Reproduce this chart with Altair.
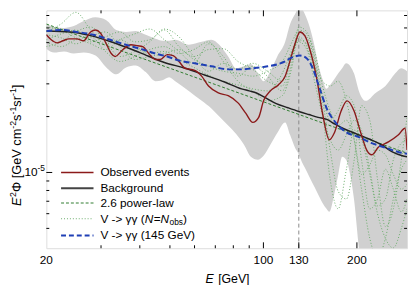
import altair as alt
import pandas as pd

# ---------------- data (flux in units of 1e-5 GeV cm^-2 s^-1 sr^-1) ----------------
obs_E = [20, 20.74, 21.66, 22.64, 23.65, 25.06, 26.37, 27.76, 28.79, 29.86, 31.19, 32.36, 33.30, 35.30, 37.43,
         39.39, 40.85, 43.30, 44.91, 46.57, 49.0, 51.19, 53.48, 55.87, 60.1, 63.25, 66.57, 71.6, 77.02, 82.84,
         87.82, 92.42, 96.55, 100.1, 105.3, 111.6, 117.5, 123.7, 126.4, 131.1, 136.0, 140.9, 148.4, 155.0, 163.0,
         169.1, 178.0, 186.0, 195.7, 205.9, 215.1, 223.1, 234.8, 252.6, 271.6, 285.8, 290]
obs_F = [5.51, 5.18, 4.99, 5.12, 5.24, 5.24, 5.12, 5.71, 5.85, 5.64, 4.93, 4.37, 4.21, 4.59, 4.87,
         4.81, 4.76, 4.26, 4.06, 4.06, 4.31, 4.26, 3.96, 3.64, 3.55, 3.30, 2.92, 2.68, 2.59, 2.37,
         2.08, 1.86, 1.98, 2.43, 2.75, 2.96, 3.30, 4.37, 4.93, 5.71, 5.44, 4.64, 3.22, 2.08, 1.50,
         1.63, 2.15, 2.43, 2.15, 1.63, 1.32, 1.245, 1.37, 1.46, 1.59, 1.73, 1.32]

bkg_E = [20, 24, 28, 33, 40, 48, 56, 65, 75, 85, 90, 95, 100, 110, 120, 130, 140, 150, 160, 170, 180, 200,
         220, 240, 260, 280, 290]
bkg_F = [5.78, 5.71, 5.44, 4.99, 4.42, 3.91, 3.64, 3.34, 3.07, 2.82, 2.75, 2.68, 2.56, 2.35, 2.23, 2.13, 2.05,
         1.98, 1.93, 1.82, 1.73, 1.61, 1.51, 1.41, 1.29, 1.23, 1.215]

line145_E = [20, 22.31, 25.06, 28.37, 32.12, 36.08, 40.85, 44.91, 49.0, 53.48, 60.1, 68.03, 77.02, 84.67, 93.1,
             103.1, 110.8, 117.5, 121.9, 131.1, 138.0, 144.1, 151.6, 159.6, 171.6, 184.6, 202.9, 223.1, 247.1,
             271.6, 290]
line145_F = [5.78, 5.85, 5.71, 5.51, 5.18, 4.87, 4.59, 4.37, 4.21, 4.01, 3.87, 3.73, 3.59, 3.59, 3.64,
             3.73, 3.82, 3.96, 4.11, 4.26, 4.11, 3.64, 2.85, 2.23, 1.84, 1.65, 1.55, 1.44, 1.36,
             1.29, 1.26]

pl_E = [20, 290]
pl_F = [6.30, 1.27]

band_E = [20.0, 21.2, 22.8, 24.5, 26.4, 28.8, 31.2, 33.6, 36.1, 38.8, 41.8, 44.9, 47.3, 49.7, 52.0, 57.5,
          63.3, 68.0, 72.1, 77.0, 81.7, 86.6, 91.1, 95.9, 100.1, 105.3, 110.8, 117.5, 121.9, 126.4, 129.2,
          133.0, 136.0, 140.9, 146.2, 149.4, 155.0, 159.6, 163.0, 169.1, 174.2, 179.3, 184.6, 191.5, 195.7,
          202.9, 213.5, 229.7, 247.1, 265.8, 277.6, 290.0]
band_hi = [6.30, 6.07, 6.00, 6.14, 6.53, 6.85, 6.61, 5.85, 5.71, 5.78, 5.51, 5.24, 5.12, 5.12, 5.18, 4.87,
           5.05, 5.18, 4.87, 4.21, 3.64, 3.73, 3.82, 3.42, 3.10, 3.51, 4.21, 5.05, 6.30, 7.11, 7.56,
           7.56, 7.11, 6.07, 4.76, 3.96, 3.18, 2.82, 2.92, 3.18, 3.42, 3.64, 3.87, 3.68, 3.42,
           2.75, 2.43, 2.68, 2.92, 3.42, 3.64, 3.51]
band_lo = [4.64, 4.42, 4.48, 4.37, 4.42, 4.26, 3.68, 3.38, 3.68, 3.77, 3.47, 3.10, 3.14, 3.26, 3.10, 2.75,
           2.43, 2.21, 2.00, 1.79, 1.61, 1.41, 1.215, 1.17, 1.23, 1.41, 1.63, 1.86, 1.59, 1.36, 1.276,
           1.14, 1.06, 0.941, 0.833, 0.774, 0.685, 0.637, 0.614, 0.765, 0.976, 1.215, 1.17, 0.918, 0.720,
           0.392, 0.213, 0.213, 0.213, 0.213, 0.213, 0.213]

sim_E = [20, 22.3, 24.9, 27.8, 31.0, 34.5, 38.5, 43.0, 48.0, 53.5, 59.7, 66.6, 74.3, 82.8, 92.4, 103, 115,
         123.7, 130, 138, 146, 155, 164, 174, 185, 196, 207, 220, 233, 247, 262, 278, 290]
sim1_F = [5.71, 6.30, 7.28, 5.85, 4.93, 5.18, 4.70, 4.37, 4.48, 4.06, 3.68, 3.34, 3.10, 2.96, 2.82, 2.75, 3.42,
          4.59, 5.37, 4.76, 3.51, 2.43, 1.32, 0.793, 0.720, 1.17, 2.29, 1.91, 0.918, 0.512, 0.637, 1.17, 1.98]
sim2_F = [5.18, 5.57, 5.85, 5.05, 5.37, 5.71, 5.05, 5.18, 5.85, 4.76, 4.21, 4.59, 4.64, 3.96, 3.59, 3.10, 2.92,
          4.21, 5.18, 4.93, 3.73, 3.10, 2.92, 3.10, 2.43, 1.50, 0.813, 0.442, 0.347, 0.442, 0.720, 1.04, 1.17]
sim3_F = [6.07, 5.85, 5.31, 4.93, 4.59, 5.18, 5.57, 5.92, 5.18, 4.48, 3.87, 4.93, 4.21, 3.30, 3.73, 3.30, 2.75,
          3.96, 6.07, 5.71, 4.21, 2.59, 1.91, 2.15, 2.59, 2.29, 1.17, 0.637, 0.720, 1.04, 0.813, 0.614, 0.720]
sim4_F = [4.76, 5.05, 5.71, 6.07, 5.05, 4.21, 4.48, 5.05, 5.92, 5.37, 4.21, 3.51, 3.87, 3.59, 3.87, 3.51, 3.10,
          4.48, 5.05, 4.59, 3.10, 2.03, 1.50, 1.32, 1.59, 1.91, 1.69, 1.04, 0.661, 0.720, 1.17, 1.44, 1.50]
sim5_F = [5.05, 4.76, 5.18, 5.37, 4.48, 3.96, 4.21, 4.59, 4.76, 4.37, 4.59, 5.05, 3.96, 3.10, 2.75, 2.43, 2.59,
          3.73, 5.71, 5.37, 3.96, 2.15, 0.918, 0.637, 1.04, 1.69, 1.50, 0.976, 0.600, 0.442, 0.392, 0.500, 0.637]
sim6_F = [5.51, 5.31, 4.93, 5.37, 5.71, 4.76, 4.06, 4.21, 4.37, 4.59, 4.06, 3.73, 3.51, 3.42, 3.30, 3.51, 3.96,
          5.05, 5.85, 5.57, 4.48, 2.92, 2.15, 1.79, 1.91, 1.50, 0.976, 1.10, 1.32, 1.245, 0.976, 0.813, 0.864]

x_tick_labels = [20, 100, 130, 200]
x_major_ticks = [100, 130, 200]
x_minor_ticks = [30, 40, 50, 60, 70, 80, 90]
y_major_ticks = [1.0]
y_minor_ticks = [0.5, 0.6, 0.7, 0.8, 0.9, 2, 3, 4, 5, 6, 7]
line_energy = [130]

# ---------------- layout / style ----------------
W, H = 367, 242
FONT = "Liberation Sans"
xs = alt.Scale(type="log", domain=[20, 290], nice=False)
ys = alt.Scale(type="log", domain=[0.391, 7.46], nice=False)
one = pd.DataFrame({"_": [0]})

ADV = {' ': .278, '[': .278, ']': .278, '(': .333, ')': .333, '-': .333, '>': .584, '=': .584,
       'E': .667, 'G': .778, 'V': .667, 'N': .722, 'a': .556, 'b': .556, 'c': .5, 'e': .556,
       'm': .833, 'o': .556, 'r': .333, 's': .5, 'v': .5, 'Φ': .78, 'γ': .5}


def tw(s, size):
    return sum(ADV.get(c, .556) for c in s) * size


def rich(pieces, X, Y, angle=0):
    out, adv = [], 0.0
    for txt, size, style, rise, gap in pieces:
        out.append(alt.Chart(one).mark_text(
            text=txt, align="left", baseline="middle", angle=angle, fontSize=size,
            fontStyle=style, font=FONT, dx=adv, dy=rise, color="black"
        ).encode(x=alt.value(X), y=alt.value(Y)))
        adv += tw(txt, size) + gap
    return out


def xenc():
    return alt.X("E:Q", scale=xs, axis=None)


def line(E, F, color, width, dash=None):
    kw = dict(color=color, strokeWidth=width, clip=True, interpolate="monotone")
    if dash:
        kw["strokeDash"] = dash
    return alt.Chart(pd.DataFrame({"E": E, "F": F})).mark_line(**kw).encode(
        x=xenc(), y=alt.Y("F:Q", scale=ys, axis=None))


RED, BLK, PLG, SIMG, BLUE = "#8b1a1a", "#222222", "#2e7b2e", "#6aac6a", "#1f3fb5"

band = alt.Chart(pd.DataFrame({"E": band_E, "lo": band_lo, "hi": band_hi})).mark_area(
    color="#d0d0d0", opacity=1, clip=True, interpolate="monotone"
).encode(x=xenc(), y=alt.Y("lo:Q", scale=ys, axis=None), y2="hi:Q")

vline = alt.Chart(pd.DataFrame({"E": line_energy})).mark_rule(
    color="#8a8a8a", strokeDash=[4, 3], strokeWidth=1).encode(x=xenc())

layers = [band, vline]
for f in [sim1_F, sim2_F, sim3_F, sim4_F, sim5_F, sim6_F]:
    layers.append(line(sim_E, f, SIMG, 1, [1, 2]))
layers += [
    line(pl_E, pl_F, PLG, 1, [3, 2]),
    line(bkg_E, bkg_F, BLK, 1.5),
    line(obs_E, obs_F, RED, 1.4),
    line(line145_E, line145_F, BLUE, 2, [6, 3]),
]


# inward ticks on all four sides
def xt(vals, y1, y2):
    return alt.Chart(pd.DataFrame({"E": vals})).mark_rule(color="black", strokeWidth=1).encode(
        x=xenc(), y=alt.value(y1), y2=alt.value(y2))


def yt(vals, x1, x2):
    return alt.Chart(pd.DataFrame({"F": vals})).mark_rule(color="black", strokeWidth=1).encode(
        y=alt.Y("F:Q", scale=ys, axis=None), x=alt.value(x1), x2=alt.value(x2))


layers += [xt(x_major_ticks, H, H - 6), xt(x_minor_ticks, H, H - 3),
           xt(x_major_ticks, 0, 6), xt(x_minor_ticks, 0, 3),
           yt(y_major_ticks, 0, 6), yt(y_minor_ticks, 0, 3),
           yt(y_major_ticks, W, W - 6), yt(y_minor_ticks, W, W - 3)]

# x tick labels (placed through the x scale)
layers.append(alt.Chart(pd.DataFrame({"E": x_tick_labels})).mark_text(
    align="center", baseline="middle", fontSize=12, font=FONT, color="black"
).encode(x=xenc(), y=alt.value(H + 12), text=alt.Text("E:Q", format="d")))

# y tick label 10^-5
ylab = pd.DataFrame({"F": y_major_ticks})
layers.append(alt.Chart(ylab).mark_text(text="10", align="right", baseline="middle", fontSize=12,
                                        font=FONT, color="black").encode(
    x=alt.value(-9), y=alt.Y("F:Q", scale=ys, axis=None)))
layers.append(alt.Chart(ylab).mark_text(text="-5", align="left", baseline="middle", fontSize=8.5,
                                        font=FONT, dy=-5, color="black").encode(
    x=alt.value(-9), y=alt.Y("F:Q", scale=ys, axis=None)))

# axis titles
layers += rich([("E", 12.5, "italic", 0, 4.5), ("[GeV]", 12.5, "normal", 0, 0)], 162, 273)
S, s2 = 13, 9
layers += rich([("E", S, "italic", 0, 0.5), ("2", s2, "normal", -4, 0), ("Φ [GeV cm", S, "normal", 0, 0),
                ("-2", s2, "normal", -4, 0), ("s", S, "normal", 0, 0), ("-1", s2, "normal", -4, 0),
                ("sr", S, "normal", 0, 0), ("-1", s2, "normal", -4, 0), ("]", S, "normal", 0, 0)],
               -30, 199, angle=270)

# legend
rows = [165, 181, 196, 212, 229]
styles = [(RED, 1.4, None), ("#444444", 2, None), (PLG, 1, [3, 2]), (SIMG, 1, [1, 2]), (BLUE, 2, [5, 3])]
for yy, (c, w, d) in zip(rows, styles):
    kw = dict(color=c, strokeWidth=w)
    if d:
        kw["strokeDash"] = d
    layers.append(alt.Chart(one).mark_rule(**kw).encode(
        x=alt.value(15), x2=alt.value(48), y=alt.value(yy)))
layers += rich([("Observed events", 12, "normal", 0, 0)], 55, rows[0])
layers += rich([("Background", 12, "normal", 0, 0)], 55, rows[1])
layers += rich([("2.6 power-law", 12, "normal", 0, 0)], 55, rows[2])
layers += rich([("V -> γγ (", 12, "normal", 0, 0), ("N", 12, "italic", 0, 0.5), ("=", 12, "normal", 0, 0),
                ("N", 12, "italic", 0, 0.5), ("obs", 8.5, "normal", 3, 0), (")", 12, "normal", 0, 0)],
               55, rows[3])
layers += rich([("V -> γγ (145 GeV)", 12, "normal", 0, 0)], 55, rows[4])

chart = alt.layer(*layers).properties(
    width=W, height=H,
    padding={"left": 39, "top": 0, "right": 2, "bottom": 35},
    autosize=alt.AutoSizeParams(type="none"),
).configure_view(stroke="black", strokeWidth=1).configure(background="white")

chart.save("out.html", embed_options={"renderer": "svg", "actions": False})
